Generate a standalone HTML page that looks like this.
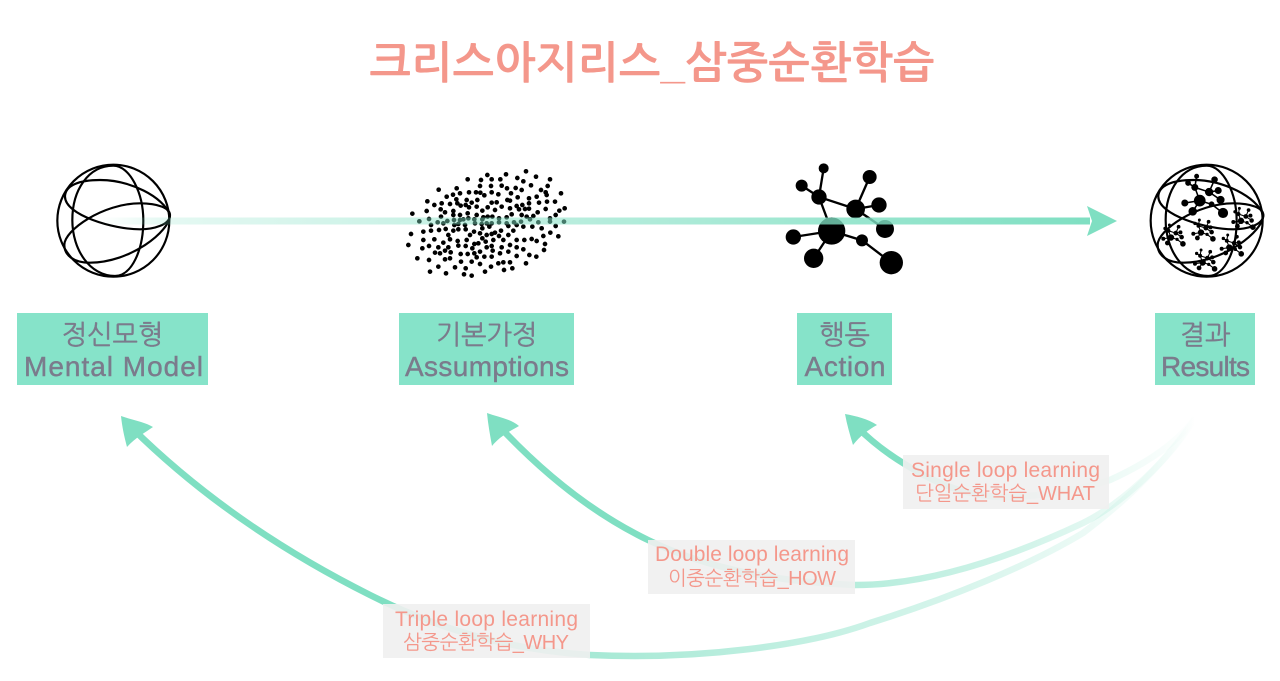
<!DOCTYPE html>
<html><head><meta charset="utf-8"><style>
html,body{margin:0;padding:0;background:#fff;width:1280px;height:681px;overflow:hidden}
svg{display:block}
text{font-family:"Liberation Sans","NanumGothic","Noto Sans CJK KR",sans-serif;text-anchor:middle}
.k{font-size:27px;fill:#7b7b8c;stroke:#7b7b8c;stroke-width:.4}
.t{font-size:28px;fill:#7b7b8c;stroke:#7b7b8c;stroke-width:.4}
.l{font-size:21px;fill:#f4978b}
.m{font-size:20px;fill:#f4978b}
</style></head><body>
<svg width="1280" height="681" viewBox="0 0 1280 681" xmlns="http://www.w3.org/2000/svg">
<defs>
<linearGradient id="ga" gradientUnits="userSpaceOnUse" x1="100" y1="0" x2="1090" y2="0"><stop offset="0" stop-color="#7fdfc2" stop-opacity="0"/><stop offset=".06" stop-color="#7fdfc2" stop-opacity=".2"/><stop offset="1" stop-color="#7fdfc2" stop-opacity="1"/></linearGradient>
<linearGradient id="g3" gradientUnits="userSpaceOnUse" x1="1195" y1="0" x2="380" y2="0"><stop offset="0" stop-color="#7fdfc2" stop-opacity="0"/><stop offset=".25" stop-color="#7fdfc2" stop-opacity=".28"/><stop offset=".75" stop-color="#7fdfc2" stop-opacity=".7"/><stop offset="1" stop-color="#7fdfc2"/></linearGradient>
<linearGradient id="g2" gradientUnits="userSpaceOnUse" x1="1195" y1="0" x2="640" y2="0"><stop offset="0" stop-color="#7fdfc2" stop-opacity="0"/><stop offset=".3" stop-color="#7fdfc2" stop-opacity=".35"/><stop offset=".65" stop-color="#7fdfc2" stop-opacity=".6"/><stop offset="1" stop-color="#7fdfc2"/></linearGradient>
<linearGradient id="g1" gradientUnits="userSpaceOnUse" x1="1195" y1="0" x2="900" y2="0"><stop offset="0" stop-color="#7fdfc2" stop-opacity="0"/><stop offset=".5" stop-color="#7fdfc2" stop-opacity=".25"/><stop offset="1" stop-color="#7fdfc2"/></linearGradient>
<g id="globe" fill="none" stroke="#000" stroke-width="6.500">
<circle cx="250" cy="212" r="168"/>
<path d="M105 140C105 105 150 90 210 90C300 90 400 140 420 195C420 225 370 238 330 238C250 238 105 195 105 140Z"/>
<path d="M103 285C103 240 220 160 330 160C385 160 420 175 420 195C420 245 300 338 180 338C130 338 103 315 103 285Z"/>
<path d="M250 47C175 47 127 120 127 210C127 300 180 378 255 378C305 378 340 300 340 212C340 130 300 47 250 47Z"/>
</g>
<g id="net">
<g fill="none" style="stroke:#000;stroke-width:var(--w,7)">
<path d="M146 40L132 126M80 92L132 126L242 162M284 66L242 162M312 150L242 162L330 222M132 126L170 228L55 246M170 228L116 310M170 228L261 256L349 323"/>
</g>
<g style="stroke:#000;stroke-width:var(--c,0)">
<circle cx="146" cy="40" r="15"/><circle cx="80" cy="92" r="18"/><circle cx="132" cy="126" r="23"/><circle cx="284" cy="66" r="21"/><circle cx="242" cy="162" r="28"/><circle cx="312" cy="150" r="23"/><circle cx="330" cy="222" r="27"/><circle cx="170" cy="228" r="41"/><circle cx="55" cy="246" r="23"/><circle cx="116" cy="310" r="29"/><circle cx="261" cy="256" r="18"/><circle cx="349" cy="323" r="35"/>
</g>
</g>
</defs>
<rect width="1280" height="681" fill="#fff"/>

<text x="652" y="78" textLength="565" style="font-size:44px;font-weight:700;fill:#f4978b">크리스아지리스_삼중순환학습</text>

<!-- Mental model globe -->
<g transform="translate(30 150) scale(.3333)"><use href="#globe"/></g>

<!-- Assumptions dots -->
<g transform="translate(395 160) scale(.3333)">
<path fill="none" stroke="#000" stroke-width="14" stroke-linecap="round" d="M393 34h.1M277 45h.1M333 43h.1M423 50h.1M218 58h.1M258 60h.1M290 58h.1M316 58h.1M367 54h.1M385 64h.1M465 58h.1M255 78h.1M288 78h.1M320 77h.1M362 84h.1M408 76h.1M458 78h.1M131 89h.1M185 85h.1M256 98h.1M290 97h.1M336 85h.1M380 90h.1M438 90h.1M452 97h.1M498 100h.1M155 110h.1M174 104h.1M195 100h.1M222 97h.1M243 97h.1M268 106h.1M310 103h.1M348 100h.1M368 112h.1M402 115h.1M455 105h.1M425 110h.1M97 124h.1M118 135h.1M140 130h.1M165 132h.1M184 118h.1M187 130h.1M215 120h.1M230 128h.1M247 120h.1M290 128h.1M305 127h.1M337 120h.1M345 122h.1M365 138h.1M382 135h.1M402 130h.1M432 128h.1M456 125h.1M480 125h.1M95 153h.1M137 148h.1M150 157h.1M175 153h.1M197 137h.1M212 135h.1M222 142h.1M245 140h.1M262 152h.1M278 142h.1M300 150h.1M320 140h.1M345 145h.1M372 148h.1M390 147h.1M402 146h.1M428 157h.1M452 147h.1M493 152h.1M509 145h.1M52 161h.1M138 170h.1M175 165h.1M195 165h.1M218 160h.1M245 165h.1M265 172h.1M278 170h.1M292 170h.1M312 175h.1M335 172h.1M350 163h.1M380 165h.1M395 170h.1M415 168h.1M482 165h.1M465 175h.1M73 184h.1M102 177h.1M128 187h.1M157 183h.1M177 180h.1M195 180h.1M205 178h.1M220 175h.1M238 178h.1M262 178h.1M240 190h.1M260 192h.1M275 190h.1M290 190h.1M312 187h.1M335 190h.1M357 187h.1M378 185h.1M405 178h.1M430 187h.1M465 185h.1M507 185h.1M108 195h.1M145 190h.1M178 195h.1M190 192h.1M210 195h.1M48 222h.1M85 215h.1M108 212h.1M132 210h.1M152 207h.1M175 212h.1M190 208h.1M212 208h.1M237 215h.1M255 220h.1M262 205h.1M283 200h.1M300 218h.1M318 212h.1M340 198h.1M365 195h.1M385 200h.1M412 200h.1M482 198h.1M440 205h.1M466 218h.1M490 229h.1M118 238h.1M85 240h.1M160 225h.1M145 248h.1M165 238h.1M188 243h.1M215 240h.1M238 252h.1M225 225h.1M262 235h.1M275 225h.1M290 222h.1M312 228h.1M340 225h.1M355 212h.1M365 240h.1M388 240h.1M410 237h.1M425 243h.1M445 228h.1M450 252h.1M40 255h.1M82 265h.1M102 258h.1M130 262h.1M160 262h.1M190 257h.1M212 258h.1M232 265h.1M250 250h.1M272 245h.1M295 240h.1M325 240h.1M345 255h.1M385 268h.1M320 262h.1M365 262h.1M120 278h.1M135 280h.1M150 272h.1M167 277h.1M197 282h.1M218 282h.1M238 280h.1M255 275h.1M275 262h.1M290 258h.1M293 272h.1M315 280h.1M340 275h.1M365 288h.1M403 285h.1M424 290h.1M447 270h.1M67 295h.1M102 300h.1M150 298h.1M165 295h.1M198 305h.1M230 305h.1M245 292h.1M268 290h.1M290 290h.1M310 310h.1M325 307h.1M345 307h.1M393 310h.1M130 320h.1M180 322h.1M255 312h.1M212 325h.1M288 320h.1M352 325h.1M327 330h.1M105 335h.1M153 340h.1M207 343h.1M230 347h.1M270 335h.1"/>
</g>

<!-- Action network -->
<g transform="translate(775 155) scale(.3333)"><use href="#net"/></g>

<!-- Results globe -->
<g transform="translate(1080 155) scale(.3333)">
<g transform="translate(130 -15)"><use href="#globe"/></g>
<g transform="translate(293 48) scale(.39)" style="--w:12;--c:8"><use href="#net"/></g>
<g transform="translate(449 152) scale(.2)" style="--w:16;--c:14"><use href="#net"/></g>
<g transform="translate(239 202) scale(.2)" style="--w:16;--c:14"><use href="#net"/></g>
<g transform="translate(329 187) scale(.2)" style="--w:16;--c:14"><use href="#net"/></g>
<g transform="translate(414 232) scale(.2)" style="--w:16;--c:14"><use href="#net"/></g>
<g transform="translate(334 277) scale(.2)" style="--w:16;--c:14"><use href="#net"/></g>
</g>

<!-- Main arrow -->
<rect x="100" y="217.500" width="990" height="7" fill="url(#ga)"/>
<path d="M1087 206L1117 221L1087 236L1092 221Z" fill="#7fdfc2"/>

<!-- Boxes -->
<rect x="17" y="313" width="191" height="72" fill="#86e3c9"/>
<rect x="399" y="313" width="175" height="72" fill="#86e3c9"/>
<rect x="797" y="313" width="95" height="72" fill="#86e3c9"/>
<rect x="1155" y="313" width="100" height="72" fill="#86e3c9"/>
<text class="k" x="112.500" y="344">정신모형</text><text class="t" x="113.500" y="376" textLength="179">Mental Model</text>
<text class="k" x="486.500" y="344">기본가정</text><text class="t" x="487" y="376" textLength="164">Assumptions</text>
<text class="k" x="844.500" y="344">행동</text><text class="t" x="845" y="376" textLength="81">Action</text>
<text class="k" x="1205" y="344">결과</text><text class="t" x="1205.500" y="376" textLength="89">Results</text>

<!-- Loop curves -->
<g fill="none" stroke-width="6.500">
<path stroke="url(#g3)" d="M1195 418C1160 470 1120 505 1083 533C1030 565 950 598 870 623C810 645 700 660 590 655C510 650 440 630 370 595C280 550 200 495 132 428"/>
<path stroke="url(#g2)" d="M1195 418C1170 460 1120 505 1083 523C1030 548 940 585 855 585C780 582 710 570 648 540C590 512 540 470 498 425"/>
<path stroke="url(#g1)" d="M1195 418C1180 440 1150 462 1110 480C1080 490 1040 497 1000 497C960 495 930 480 903 463C885 452 870 440 856 426"/>
</g>
<path d="M121 416C132 420 145 422 153 427C146 432 135 438 127 447C124 436 122 426 121 416Z" fill="#7fdfc2"/>
<path d="M487 413C498 417 511 419 519 426C512 430 500 436 492 446C490 435 488 424 487 413Z" fill="#7fdfc2"/>
<path d="M845 414C856 416 868 419 877 425C868 430 860 436 853 445C850 435 847 425 845 414Z" fill="#7fdfc2"/>

<!-- Labels -->
<rect x="903" y="455" width="206" height="54" fill="#efefef" fill-opacity=".9"/>
<rect x="648" y="540" width="207" height="54" fill="#efefef" fill-opacity=".9"/>
<rect x="383" y="604" width="207" height="54" fill="#efefef" fill-opacity=".9"/>
<text class="l" x="1005.500" y="477" textLength="189">Single loop learning</text><text class="m" x="1005" y="500" textLength="180">단일순환학습_WHAT</text>
<text class="l" x="752" y="561" textLength="194">Double loop learning</text><text class="m" x="752" y="585" textLength="168">이중순환학습_HOW</text>
<text class="l" x="486.500" y="626" textLength="183">Triple loop learning</text><text class="m" x="486" y="649" textLength="166">삼중순환학습_WHY</text>
</svg>
</body></html>
